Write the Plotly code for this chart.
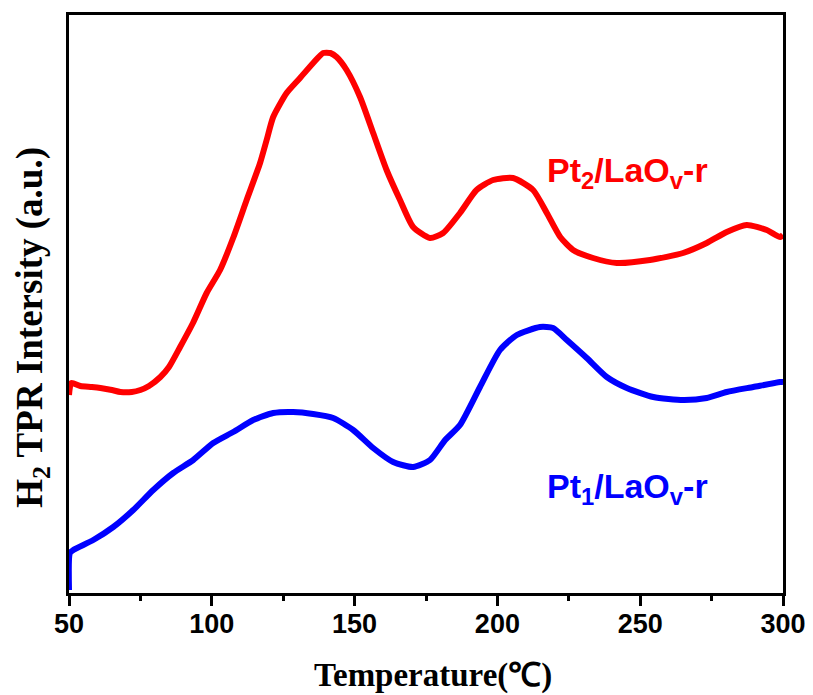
import plotly.graph_objects as go

# Temperature (°C) and H2-TPR intensity (a.u.)
temp_pt2 = [50, 50.8, 54, 58, 61, 65, 68, 72, 75, 78, 82, 85, 88.9, 93.4, 98.2, 102.9, 107.6, 112.2, 116.9,
            119.2, 121.5, 126.2, 130.9, 135.5, 139, 141.5, 143.7, 147.2, 151.9, 156.5, 161.2, 165.9,
            170.5, 176.4, 181, 186.9, 192.7, 198.5, 205.5, 212.5, 217.3, 222, 226.5, 233.5, 241.8,
            253.4, 265, 273.3, 280.3, 287.3, 294.3, 299, 300]
int_pt2 = [198, 210, 207, 206, 205, 203, 201, 201, 203, 207, 216, 226, 246, 270, 300, 323, 356, 393, 430,
           453, 476, 500, 515, 530, 540, 540, 536, 523, 496, 460, 423, 393,
           366, 355, 360, 380, 403, 413, 415, 403, 380, 356, 343, 335, 330,
           333, 340, 350, 361, 368, 363, 356, 358]

temp_pt1 = [50, 50.3, 51.5, 58.5, 65.5, 72.5, 79.5, 86.5, 93.5, 100.5, 107.5, 114.5, 121.5, 128.5,
            135.5, 142.5, 149.5, 156.5, 163.5, 170.5, 176.4, 181.7, 186.9, 193.9, 200.9, 206.8,
            214.9, 219.5, 224.3, 231.3, 238.3, 245.3, 254.6, 265.1, 273.3, 280.3, 289.6, 299, 300]
int_pt1 = [3, 40, 43, 53, 66, 83, 103, 120, 133, 150, 161, 173, 180, 181,
           179, 175, 163, 145, 131, 126, 133, 153, 168, 206, 243, 258,
           266, 265, 253, 235, 216, 205, 196, 193, 195, 201, 206, 211, 211]

x_ticks = [50, 100, 150, 200, 250, 300]

fig = go.Figure()
fig.add_trace(go.Scatter(x=temp_pt2, y=int_pt2, mode="lines",
                         line=dict(color="#FF0000", width=6, shape="spline", smoothing=0.6),
                         showlegend=False))
fig.add_trace(go.Scatter(x=temp_pt1, y=int_pt1, mode="lines",
                         line=dict(color="#0000FF", width=6, shape="spline", smoothing=0.6),
                         showlegend=False))

fig.add_annotation(x=216.5, y=421, xref="x", yref="y", xanchor="left", yanchor="middle",
                   text="Pt<sub>2</sub>/LaO<sub>v</sub>-r", showarrow=False,
                   font=dict(family="Liberation Sans", size=34, color="#FF0000", weight="bold"))
fig.add_annotation(x=216.5, y=105, xref="x", yref="y", xanchor="left", yanchor="middle",
                   text="Pt<sub>1</sub>/LaO<sub>v</sub>-r", showarrow=False,
                   font=dict(family="Liberation Sans", size=34, color="#0000FF", weight="bold"))

# axis titles
fig.add_annotation(x=0.51, y=-0.142, xref="paper", yref="paper", xanchor="center", yanchor="middle",
                   text="Temperature(℃)", showarrow=False,
                   font=dict(family="Liberation Serif", size=33, color="black", weight="bold"))
fig.add_annotation(x=-0.051, y=0.46, xref="paper", yref="paper", xanchor="center", yanchor="middle",
                   text="H<sub>2</sub> TPR Intersity (a.u.)", showarrow=False, textangle=-90,
                   font=dict(family="Liberation Serif", size=37, color="black", weight="bold"))

# the page body adds an 8px offset, so the figure is 8px smaller and margins compensate
fig.update_layout(
    width=805, height=687,
    margin=dict(l=61, r=30, t=7, b=102),
    plot_bgcolor="white", paper_bgcolor="white",
    xaxis=dict(range=[50, 300], tickvals=x_ticks, ticks="outside", ticklen=10, tickwidth=3,
               tickcolor="black", showline=True, linewidth=3, linecolor="black", mirror=True,
               showgrid=False, zeroline=False, automargin=False, ticklabelstandoff=-5,
               minor=dict(ticks="outside", ticklen=5, tickwidth=3, tickcolor="black", dtick=25, showgrid=False),
               tickfont=dict(family="Liberation Sans", size=27, color="black", weight="bold")),
    yaxis=dict(range=[0, 578], showticklabels=False, ticks="", showline=True, linewidth=3,
               linecolor="black", mirror=True, showgrid=False, zeroline=False, automargin=False),
)

fig.write_html("out.html")
